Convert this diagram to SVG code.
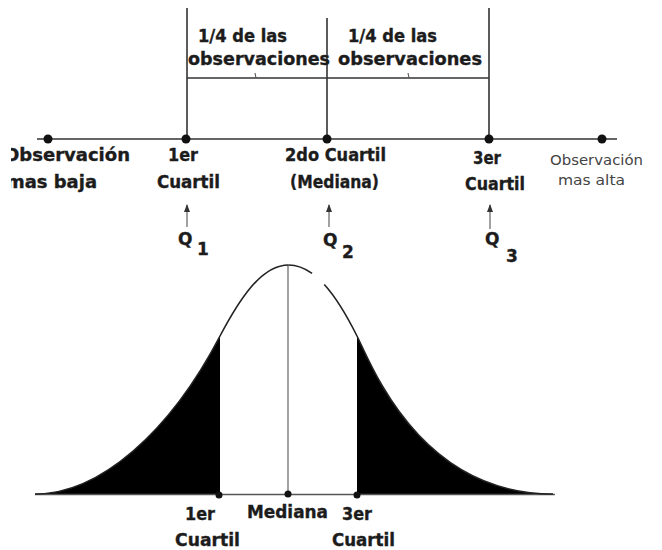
<svg xmlns="http://www.w3.org/2000/svg" width="662" height="550" viewBox="0 0 662 550">
<style>
.b{font-family:"DejaVu Sans","Liberation Sans",sans-serif;font-weight:bold;fill:#1c1c1c;stroke:#1c1c1c;stroke-width:0.35;font-size:17px}
.n{font-family:"DejaVu Sans","Liberation Sans",sans-serif;fill:#444;font-size:14px}
.ln{stroke:#333;stroke-width:1.6;fill:none}
.thin{stroke:#555;stroke-width:1.1;fill:none}
.dot{fill:#111}
</style>
<defs>
<marker id="ah" viewBox="0 0 8 6" refX="7" refY="3" markerWidth="8" markerHeight="6" markerUnits="userSpaceOnUse" orient="auto">
<path d="M0,0 L8,3 L0,6 Z" fill="#333"/>
</marker>
<clipPath id="lc"><rect x="11" y="140" width="200" height="60"/></clipPath>
</defs>
<rect width="662" height="550" fill="#fff"/>

<g id="connectors">
<line class="ln" x1="37" y1="139" x2="617" y2="139"/>
<line class="ln" x1="187" y1="8" x2="187" y2="139"/>
<line class="ln" x1="327" y1="18" x2="327" y2="139"/>
<line class="ln" x1="489" y1="8" x2="489" y2="139"/>
<line class="ln" x1="187" y1="78" x2="489" y2="78"/>
<line class="thin" x1="255" y1="73" x2="256" y2="78"/>
<line class="thin" x1="408" y1="73" x2="409" y2="78"/>
<line class="thin" x1="187" y1="227" x2="187" y2="205" marker-end="url(#ah)"/>
<line class="thin" x1="329" y1="227" x2="329" y2="205" marker-end="url(#ah)"/>
<line class="thin" x1="490" y1="229" x2="490" y2="205" marker-end="url(#ah)"/>
</g>

<g id="bracket-labels">
<text class="b" x="198" y="42" textLength="89" lengthAdjust="spacingAndGlyphs">1/4 de las</text>
<text class="b" x="188" y="65" textLength="142" lengthAdjust="spacingAndGlyphs">observaciones</text>
<text class="b" x="348" y="42" textLength="89" lengthAdjust="spacingAndGlyphs">1/4 de las</text>
<text class="b" x="338" y="65" textLength="144" lengthAdjust="spacingAndGlyphs">observaciones</text>
</g>

<g id="min-obs">
<circle class="dot" cx="48" cy="139" r="4.5"/>
<g clip-path="url(#lc)">
<text class="b" x="4" y="161" font-size="18" textLength="126" lengthAdjust="spacingAndGlyphs">Observación</text>
<text class="b" x="6" y="188" font-size="18" textLength="91" lengthAdjust="spacingAndGlyphs">mas baja</text>
</g>
</g>

<g id="q1">
<circle class="dot" cx="186" cy="139" r="4.5"/>
<text class="b" x="168" y="161" textLength="30" lengthAdjust="spacingAndGlyphs">1er</text>
<text class="b" x="157" y="188" textLength="63" lengthAdjust="spacingAndGlyphs">Cuartil</text>
<text class="b" x="178" y="245" font-size="14">Q</text>
<text class="b" x="197" y="255" font-size="18">1</text>
</g>

<g id="q2">
<circle class="dot" cx="327" cy="139" r="4.5"/>
<text class="b" x="285" y="161" textLength="101" lengthAdjust="spacingAndGlyphs">2do Cuartil</text>
<text class="b" x="290" y="188" textLength="89" lengthAdjust="spacingAndGlyphs">(Mediana)</text>
<text class="b" x="323" y="246" font-size="14">Q</text>
<text class="b" x="342" y="258" font-size="18">2</text>
</g>

<g id="q3">
<circle class="dot" cx="489" cy="139" r="4.5"/>
<text class="b" x="473" y="164" textLength="28" lengthAdjust="spacingAndGlyphs">3er</text>
<text class="b" x="465" y="190" textLength="60" lengthAdjust="spacingAndGlyphs">Cuartil</text>
<text class="b" x="485" y="245" font-size="14">Q</text>
<text class="b" x="506" y="262" font-size="18">3</text>
</g>

<g id="max-obs">
<circle class="dot" cx="602" cy="139" r="4.5"/>
<text class="n" x="550" y="165" textLength="93" lengthAdjust="spacingAndGlyphs">Observación</text>
<text class="n" x="558" y="185" textLength="67" lengthAdjust="spacingAndGlyphs">mas alta</text>
</g>

<g id="distribution">
<path d="M35,494 C100,494 170,432 220,336 L220,494 Z" fill="#000"/>
<path d="M357,336 C372,366 420,494 553,494 L357,494 Z" fill="#000"/>
<line x1="35" y1="494.5" x2="555" y2="494.5" stroke="#555" stroke-width="1.5"/>
<line class="thin" x1="288" y1="265" x2="288" y2="494"/>
<path d="M35,494 C100,494 170,432 220,336 C238,302 260.5,265 288.5,265" fill="none" stroke="#222" stroke-width="1.6"/>
<path d="M288.5,265 C316.5,265 339,300 357,336" fill="none" stroke="#222" stroke-width="1.6" stroke-dasharray="25.5 16.5 300"/>
<path d="M357,336 C372,366 420,494 553,494" fill="none" stroke="#222" stroke-width="1.6"/>
<circle class="dot" cx="219" cy="495" r="3.5"/>
<circle class="dot" cx="288" cy="494" r="3.5"/>
<circle class="dot" cx="357" cy="495" r="3.5"/>
</g>

<g id="bottom-labels">
<text class="b" x="185" y="520" textLength="30" lengthAdjust="spacingAndGlyphs">1er</text>
<text class="b" x="175" y="546" textLength="65" lengthAdjust="spacingAndGlyphs">Cuartil</text>
<text class="b" x="247" y="518" textLength="81" lengthAdjust="spacingAndGlyphs">Mediana</text>
<text class="b" x="342" y="520" textLength="30" lengthAdjust="spacingAndGlyphs">3er</text>
<text class="b" x="332" y="546" textLength="63" lengthAdjust="spacingAndGlyphs">Cuartil</text>
</g>
</svg>
